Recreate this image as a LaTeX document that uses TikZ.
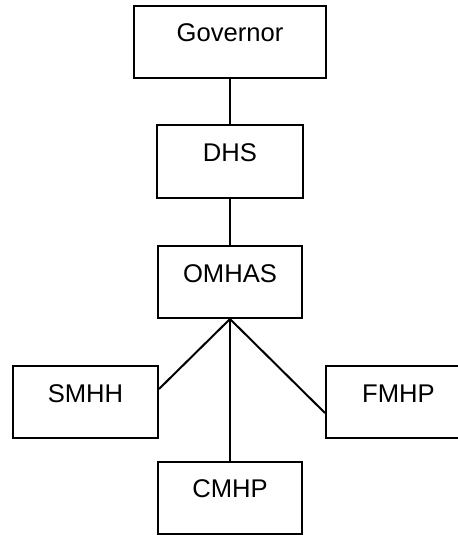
\documentclass[tikz,border=0pt]{standalone}
\usepackage{fontspec}
\setmainfont{Liberation Sans}
\usepackage{tikz}

\tikzset{
  orgbox/.style={draw, line width=1pt, inner xsep=0pt, inner ysep=0pt,
    text height=18pt, text depth=18pt, minimum width=#1,
    font=\fontsize{12.8}{15}\selectfont},
  orgbox/.default=72.5pt,
  link/.style={line width=1pt}
}

\begin{document}
\begin{tikzpicture}[x=0.5pt, y=-0.5pt]
  \clip (0,0) rectangle (458,535);
  \node[orgbox=96pt] (gov) at (230,42) {Governor};
  \node[orgbox=73pt] (dhs) at (230,161.5) {DHS};
  \node[orgbox=72pt] (omhas) at (230,282) {OMHAS};
  \node[orgbox] (smhh) at (85.5,402) {SMHH};
  \node[orgbox] (fmhp) at (398.5,402) {FMHP};
  \node[orgbox=72pt] (cmhp) at (230,497.5) {CMHP};

  \draw[link] (gov.south) -- (dhs.north);
  \draw[link] (dhs.south) -- (omhas.north);
  \foreach \to/\dy in {smhh.east/6.5pt, fmhp.west/-5.5pt, cmhp.north/0pt}
    \draw[link] (omhas.south) -- ([yshift=\dy]\to);
\end{tikzpicture}
\end{document}
